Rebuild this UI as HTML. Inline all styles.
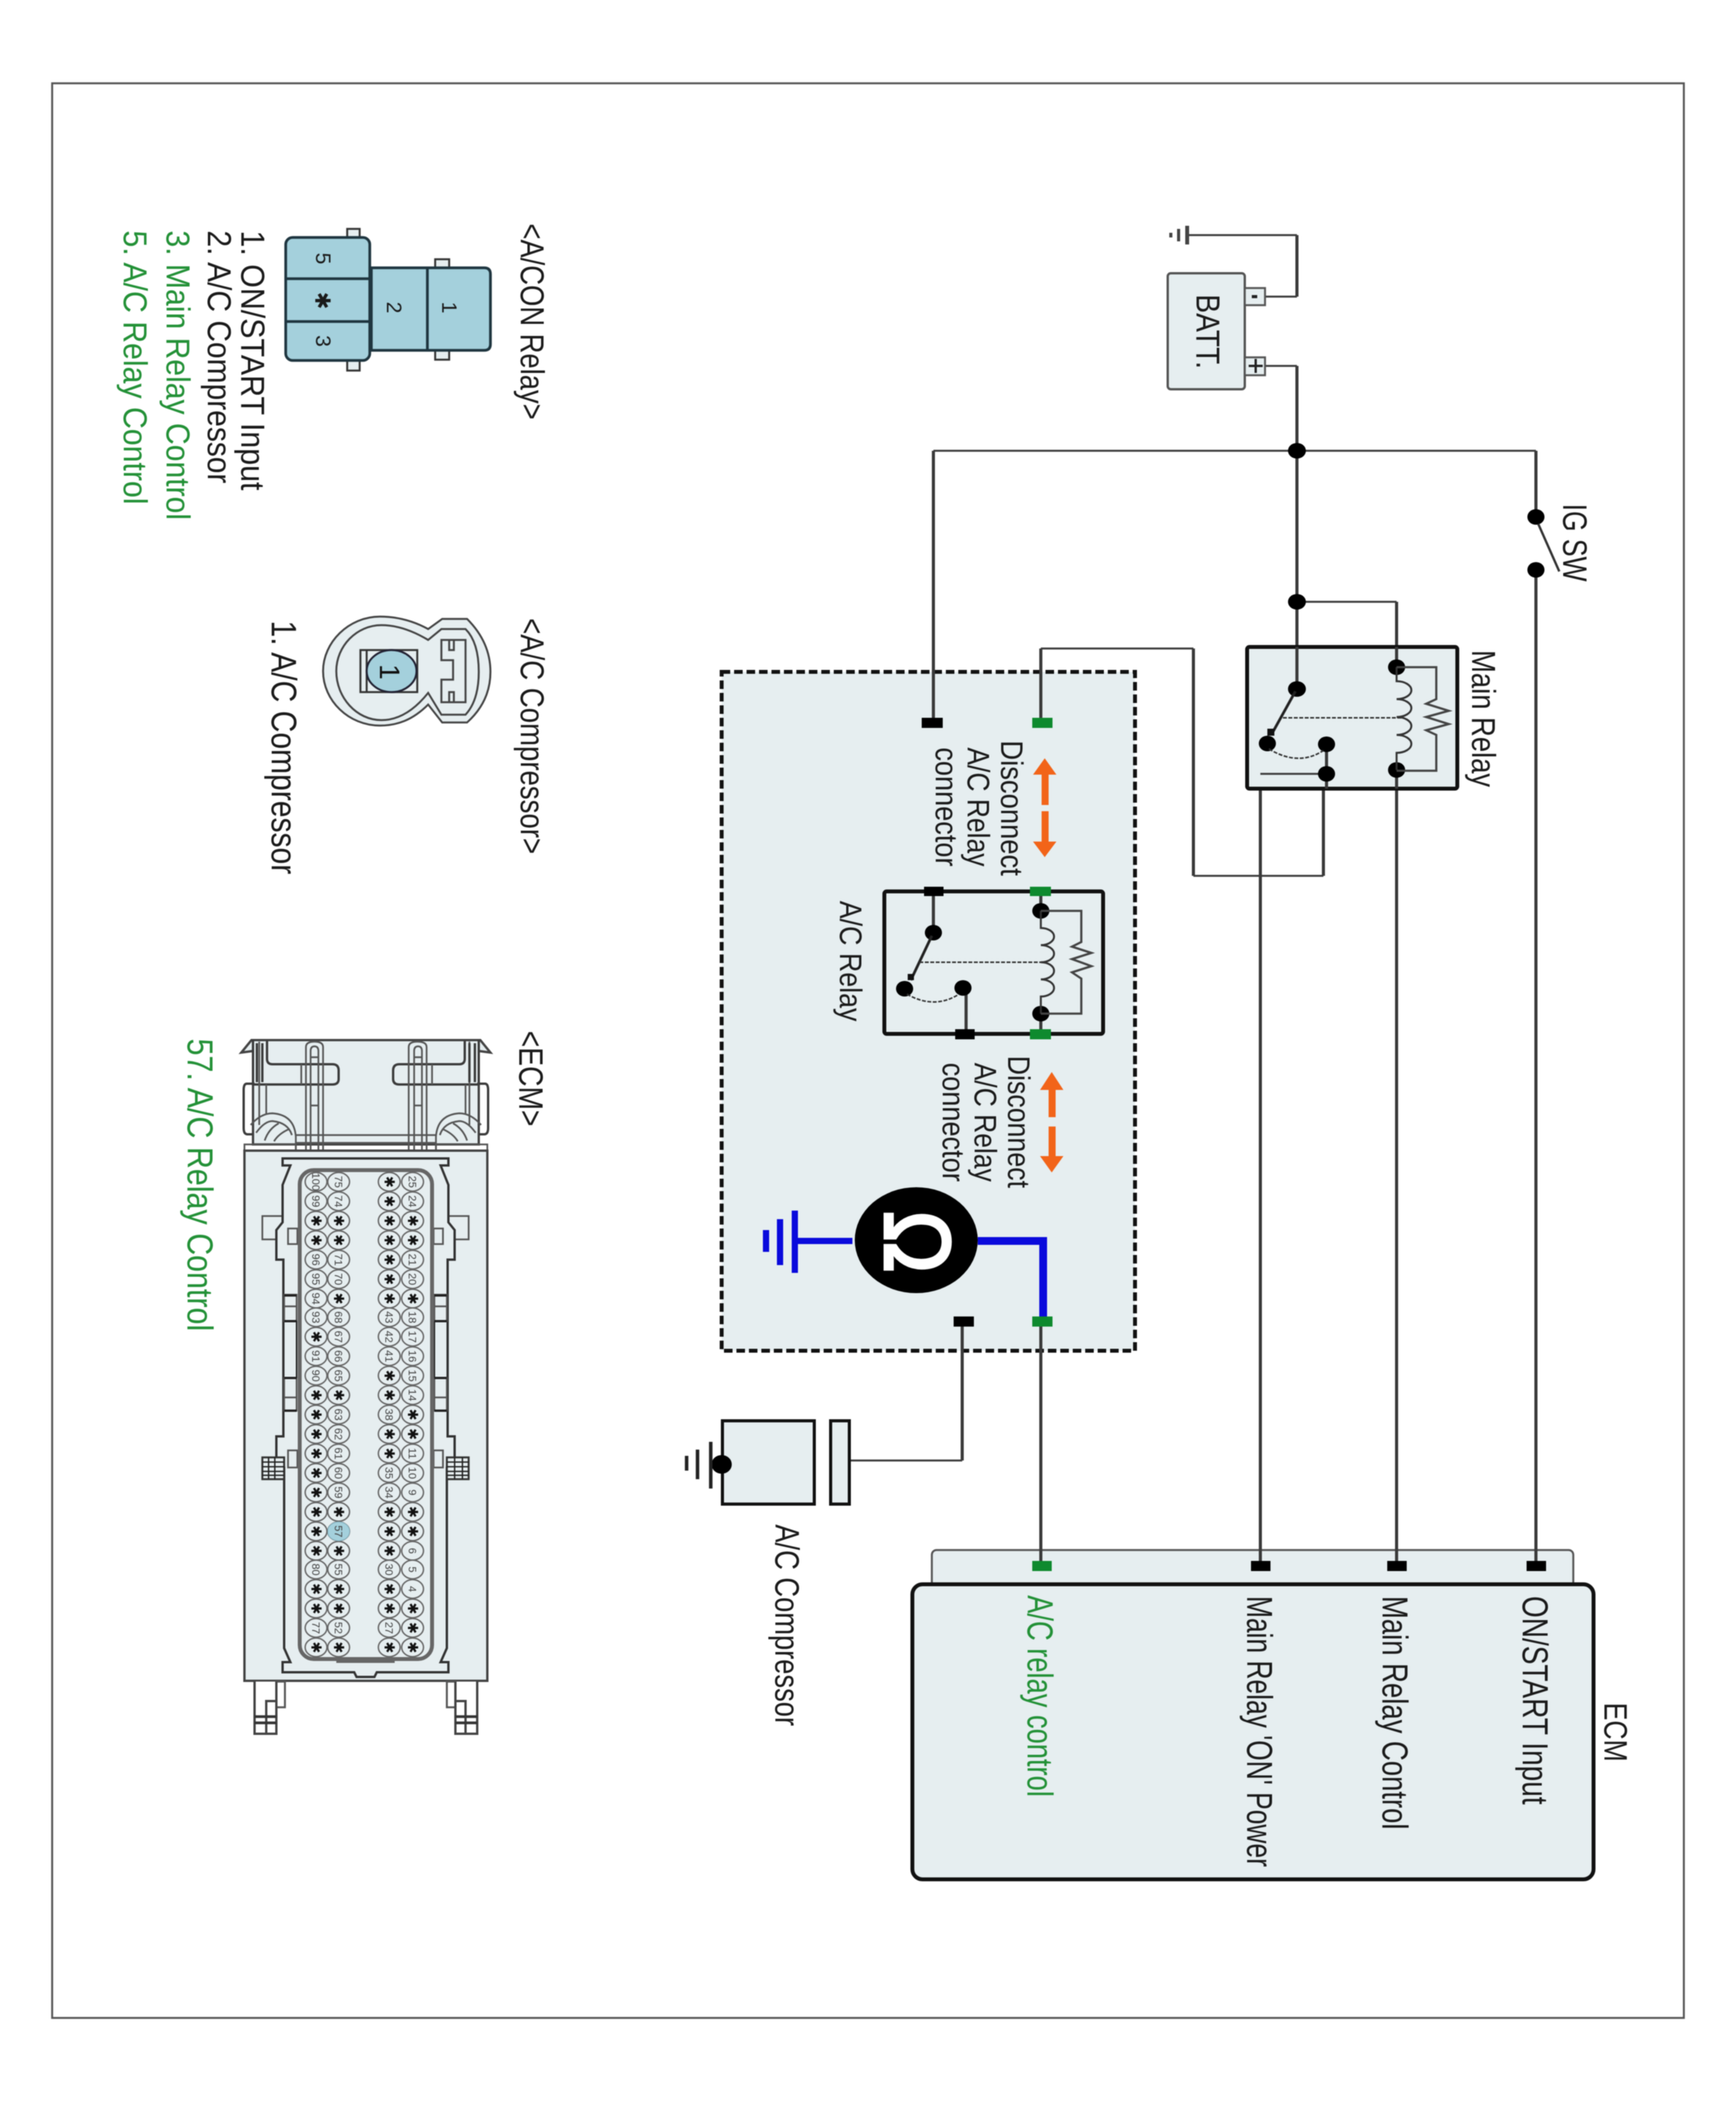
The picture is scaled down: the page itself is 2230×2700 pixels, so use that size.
<!DOCTYPE html>
<html><head><meta charset="utf-8"><title>A/C Relay Circuit</title>
<style>
html,body{margin:0;padding:0;background:#fff}
svg{display:block;filter:blur(.6px)}
text{font-family:"Liberation Sans",sans-serif;fill:#1a1a1a}
.g{fill:#239137}
.w{fill:none;stroke:#3a3a3a;stroke-width:4}
.h{fill:none;stroke:#3a3a3a;stroke-width:2.6}
.b{fill:#e6eef0;stroke:#111;stroke-width:5}
.d{fill:#000}
.l{fill:none;stroke:#555;stroke-width:2.2}
.k{fill:none;stroke:#3c3c3c;stroke-width:3}
.c text{text-anchor:middle;font-size:14px;fill:#444}
.c text.s{font-family:"DejaVu Sans",sans-serif;font-size:18px;fill:#111;font-weight:bold}
</style></head><body>
<svg width="2230" height="2700" viewBox="0 0 2230 2700" xmlns="http://www.w3.org/2000/svg">
<rect width="2230" height="2700" fill="#fff"/>
<rect x="67" y="107" width="2096" height="2485" fill="none" stroke="#555" stroke-width="2.5"/>

<!-- dashed box -->
<rect x="927" y="863" width="531" height="872" fill="#e6eef0" stroke="#111" stroke-width="5" stroke-dasharray="11 5"/>

<!-- wires vertical -->
<path class="w" d="M1666 302V381M1666 470V885M1973 579V664M1199 579V928M1973 732V2012M1794 773V2012M1704 956V994M1619 994V2012M1700 994V1125M1533 833V1125M1337 833V928M1337 1700V2012M1236 1700V1876"/>
<!-- wires horizontal -->
<path class="h" d="M1525 302H1666M1625 381H1666M1625 470H1666M1199 579H1973M1666 773H1794M1619 994H1704M1533 1125H1700M1337 833H1533M1090 1876H1236"/>

<!-- ground top -->
<path d="M1525 290V314" stroke="#444" stroke-width="5"/>
<path d="M1514 294V310" stroke="#444" stroke-width="4"/>
<path d="M1504 299V305" stroke="#444" stroke-width="4"/>

<!-- battery -->
<rect x="1500" y="351" width="99" height="149" rx="4" fill="#e6eef0" stroke="#555" stroke-width="3"/>
<rect x="1599" y="370" width="26" height="22" fill="#e6eef0" stroke="#555" stroke-width="2.5"/>
<rect x="1599" y="459" width="26" height="23" fill="#e6eef0" stroke="#555" stroke-width="2.5"/>
<path d="M1608 381h7" stroke="#222" stroke-width="4"/>
<path d="M1604 470h18M1613 461v18" stroke="#222" stroke-width="3"/>
<text transform="translate(1537 378) rotate(90)" font-size="43" textLength="96" lengthAdjust="spacingAndGlyphs">BATT.</text>

<!-- junctions / IG SW -->
<ellipse class="d" cx="1666" cy="579" rx="11.5" ry="10"/>
<ellipse class="d" cx="1666" cy="773" rx="11.5" ry="10"/>
<ellipse class="d" cx="1973" cy="664" rx="11" ry="10"/>
<ellipse class="d" cx="1973" cy="732" rx="11" ry="10"/>
<path d="M1976 673L2003 734" stroke="#333" stroke-width="3" fill="none"/>
<text transform="translate(2008 647) rotate(90)" font-size="44" textLength="100" lengthAdjust="spacingAndGlyphs">IG SW</text>

<!-- Main relay -->
<rect class="b" x="1602" y="831" width="270" height="182" rx="3"/>
<path class="w" d="M1666 831V885M1794 831V857M1794 989V1013M1704 956V1013"/>
<path class="h" d="M1619 994H1704"/>
<ellipse class="d" cx="1666" cy="885" rx="11.5" ry="10"/>
<ellipse class="d" cx="1628" cy="955" rx="11" ry="10"/>
<ellipse class="d" cx="1704" cy="956" rx="11" ry="10"/>
<ellipse class="d" cx="1704" cy="994" rx="11" ry="10"/>
<ellipse class="d" cx="1794" cy="857" rx="11" ry="10"/>
<ellipse class="d" cx="1794" cy="989" rx="11" ry="10"/>
<path d="M1664 888L1633 944" stroke="#222" stroke-width="3.5" fill="none"/>
<rect x="1628" y="936" width="9" height="9" fill="#111"/>
<path d="M1648 922H1801" stroke="#333" stroke-width="2" stroke-dasharray="5 2" fill="none"/>
<path d="M1630 962Q1668 985 1700 964" stroke="#333" stroke-width="2" stroke-dasharray="5 2" fill="none"/>
<path d="M1794 857V875a19 11.5 0 0 1 0 23a19 11.5 0 0 1 0 23a19 11.5 0 0 1 0 23a19 11.5 0 0 1 0 23V989" fill="none" stroke="#333" stroke-width="2.5"/>
<path d="M1794 857H1845V898L1832 904L1861 913L1832 921L1861 930L1832 938L1845 944V990H1794" fill="none" stroke="#444" stroke-width="2.8"/>
<text transform="translate(1891 835) rotate(90)" font-size="43" textLength="176" lengthAdjust="spacingAndGlyphs">Main Relay</text>

<!-- connectors upper -->
<rect class="d" x="1184" y="922" width="27" height="13"/>
<rect x="1326" y="922" width="26" height="13" fill="#0e8a2e"/>

<!-- orange arrows -->
<g fill="#f26419">
<path d="M1342 974L1357 995H1327Z"/><rect x="1338" y="995" width="9" height="39"/><rect x="1338" y="1042" width="9" height="39"/><path d="M1342 1101L1357 1081H1327Z"/>
<path d="M1351 1377L1366 1400H1336Z"/><rect x="1347" y="1400" width="9" height="35"/><rect x="1347" y="1447" width="9" height="38"/><path d="M1351 1506L1366 1485H1336Z"/>
</g>

<!-- disconnect texts -->
<text transform="translate(1286 951) rotate(90)" font-size="40" textLength="174" lengthAdjust="spacingAndGlyphs">Disconnect</text>
<text transform="translate(1243 960) rotate(90)" font-size="40" textLength="153" lengthAdjust="spacingAndGlyphs">A/C Relay</text>
<text transform="translate(1202 960) rotate(90)" font-size="40" textLength="153" lengthAdjust="spacingAndGlyphs">connector</text>
<text transform="translate(1295 1356) rotate(90)" font-size="40" textLength="170" lengthAdjust="spacingAndGlyphs">Disconnect</text>
<text transform="translate(1252 1365) rotate(90)" font-size="40" textLength="153" lengthAdjust="spacingAndGlyphs">A/C Relay</text>
<text transform="translate(1211 1365) rotate(90)" font-size="40" textLength="153" lengthAdjust="spacingAndGlyphs">connector</text>

<!-- A/C relay -->
<rect class="b" x="1136" y="1145" width="281" height="183" rx="3"/>
<path class="w" d="M1199 1145V1198M1241 1269V1328M1337 1145V1170M1337 1302V1328"/>
<rect class="d" x="1187" y="1139" width="25" height="12"/>
<rect x="1323" y="1139" width="27" height="12" fill="#0e8a2e"/>
<rect class="d" x="1227" y="1322" width="25" height="13"/>
<rect x="1323" y="1322" width="27" height="13" fill="#0e8a2e"/>
<ellipse class="d" cx="1337" cy="1170" rx="11" ry="10"/>
<ellipse class="d" cx="1337" cy="1302" rx="11" ry="10"/>
<ellipse class="d" cx="1199" cy="1198" rx="11" ry="10"/>
<ellipse class="d" cx="1162" cy="1270" rx="11" ry="10"/>
<ellipse class="d" cx="1237" cy="1269" rx="11" ry="10"/>
<path d="M1197 1202L1170 1259" stroke="#222" stroke-width="3.5" fill="none"/>
<rect x="1166" y="1251" width="8" height="8" fill="#111"/>
<path d="M1181 1236H1338" stroke="#333" stroke-width="2" stroke-dasharray="5 2" fill="none"/>
<path d="M1165 1277Q1200 1297 1232 1277" stroke="#333" stroke-width="2" stroke-dasharray="5 2" fill="none"/>
<path d="M1337 1170V1192a17 11 0 0 1 0 22a17 11 0 0 1 0 22a17 11 0 0 1 0 22a17 11 0 0 1 0 22V1302" fill="none" stroke="#333" stroke-width="2.5"/>
<path d="M1337 1170H1389V1210L1377 1216L1402 1224L1377 1232L1402 1241L1377 1249L1389 1257V1302H1337" fill="none" stroke="#444" stroke-width="2.8"/>
<text transform="translate(1079 1157) rotate(90)" font-size="40" textLength="155" lengthAdjust="spacingAndGlyphs">A/C Relay</text>

<!-- omega -->
<path d="M1256 1594H1340V1691" fill="none" stroke="#0a0adc" stroke-width="10"/>
<path d="M1095 1594H1021" fill="none" stroke="#0a0adc" stroke-width="8"/>
<path d="M1021 1555V1635" stroke="#0a0adc" stroke-width="8"/>
<path d="M1002 1566V1625" stroke="#0a0adc" stroke-width="8"/>
<path d="M984 1580V1608" stroke="#0a0adc" stroke-width="8"/>
<ellipse class="d" cx="1177" cy="1593" rx="79" ry="68"/>
<text transform="translate(1137 1555) rotate(90)" font-size="120" textLength="80" lengthAdjust="spacingAndGlyphs" style="fill:#fff;stroke:#fff;stroke-width:4">Ω</text>
<rect x="1326" y="1691" width="26" height="13" fill="#0e8a2e"/>
<rect class="d" x="1225" y="1691" width="26" height="13"/>

<!-- compressor -->
<rect x="1067" y="1825" width="24" height="107" fill="#e6eef0" stroke="#111" stroke-width="4"/>
<rect x="928" y="1825" width="118" height="107" fill="#e6eef0" stroke="#111" stroke-width="4"/>
<ellipse class="d" cx="927" cy="1881" rx="13" ry="12"/>
<path d="M913 1852V1912" stroke="#222" stroke-width="4.5"/>
<path d="M896 1862V1900" stroke="#222" stroke-width="4.5"/>
<path d="M882 1870V1889" stroke="#222" stroke-width="4.5"/>
<text transform="translate(996 1958) rotate(90)" font-size="44" textLength="259" lengthAdjust="spacingAndGlyphs">A/C Compressor</text>

<!-- ECM -->
<rect x="1197" y="1991" width="824" height="50" rx="6" fill="#e6eef0" stroke="#555" stroke-width="2.5"/>
<path class="h" d="M1337 1960V2011M1619 1960V2011M1794 1960V2011M1973 1960V2011" style="stroke-width:4"/>
<rect x="1172" y="2035" width="875" height="379" rx="13" class="b"/>
<rect x="1326" y="2005" width="25" height="13" fill="#0e8a2e"/>
<rect class="d" x="1607" y="2005" width="25" height="13"/>
<rect class="d" x="1782" y="2005" width="25" height="13"/>
<rect class="d" x="1961" y="2005" width="25" height="13"/>
<text transform="translate(1956 2050) rotate(90)" font-size="46" textLength="268" lengthAdjust="spacingAndGlyphs">ON/START Input</text>
<text transform="translate(1776 2050) rotate(90)" font-size="46" textLength="300" lengthAdjust="spacingAndGlyphs">Main Relay Control</text>
<text transform="translate(1602 2050) rotate(90)" font-size="46" textLength="348" lengthAdjust="spacingAndGlyphs">Main Relay 'ON' Power</text>
<text class="g" transform="translate(1320 2049) rotate(90)" font-size="46" textLength="259" lengthAdjust="spacingAndGlyphs">A/C relay control</text>
<text transform="translate(2061 2187) rotate(90)" font-size="42" textLength="76" lengthAdjust="spacingAndGlyphs">ECM</text>

<!-- A/CON connector -->
<text transform="translate(669 287) rotate(90)" font-size="43" textLength="252" lengthAdjust="spacingAndGlyphs">&lt;A/CON Relay&gt;</text>
<g fill="#e6eef0" stroke="#333" stroke-width="2.5">
<rect x="446" y="294" width="16" height="14"/><rect x="446" y="460" width="16" height="16"/>
<rect x="559" y="333" width="18" height="14"/><rect x="559" y="447" width="18" height="15"/>
</g>
<g fill="#a4d0dc" stroke="#1f3640" stroke-width="3.5">
<path d="M477 344H622Q630 344 630 352V442Q630 450 622 450H477Z"/>
<path d="M549 344V450"/>
<rect x="367" y="305" width="108" height="158" rx="9"/>
<path d="M367 358H475M367 413H475"/>
</g>
<g font-size="27" text-anchor="middle" style="fill:#223">
<text transform="translate(568 395) rotate(90)">1</text>
<text transform="translate(497 395) rotate(90)">2</text>
<text transform="translate(406 332) rotate(90)">5</text>
<text transform="translate(406 438) rotate(90)">3</text>
<text transform="translate(405 386) rotate(90)" font-weight="bold" style="font-family:'DejaVu Sans',sans-serif">✱</text>
</g>
<text transform="translate(310 296) rotate(90)" font-size="43" textLength="334" lengthAdjust="spacingAndGlyphs">1. ON/START Input</text>
<text transform="translate(267 296) rotate(90)" font-size="43" textLength="325" lengthAdjust="spacingAndGlyphs">2. A/C Compressor</text>
<text class="g" transform="translate(214 296) rotate(90)" font-size="43" textLength="372" lengthAdjust="spacingAndGlyphs">3. Main Relay Control</text>
<text class="g" transform="translate(159 296) rotate(90)" font-size="43" textLength="352" lengthAdjust="spacingAndGlyphs">5. A/C Relay Control</text>

<!-- A/C compressor connector -->
<text transform="translate(669 794) rotate(90)" font-size="43" textLength="303" lengthAdjust="spacingAndGlyphs">&lt;A/C Compressor&gt;</text>
<path d="M550 808C530 797 510 792 488 792C448 792 415 825 415 862C415 900 448 932 488 932C510 932 530 925 550 905L568 928H600C620 910 630 888 630 863C630 838 620 815 600 795H568Z" fill="#e6eef0" stroke="#444" stroke-width="2.5"/>
<path d="M550 822C530 810 510 803 490 803C458 803 432 830 432 862C432 896 458 925 490 925C510 925 530 915 550 890L567 918H598C610 905 615 885 615 863C615 840 610 820 598 808H567Z" fill="none" stroke="#444" stroke-width="2.5"/>
<path d="M567 822H598V902H567V873H582V848H567ZM577 822V835H583V822M577 902V889H583V902" fill="none" stroke="#444" stroke-width="2.5"/>
<rect x="463" y="835" width="73" height="54" fill="#e6eef0" stroke="#333" stroke-width="2.5"/>
<path d="M471 835V889" stroke="#333" stroke-width="2.5"/>
<ellipse cx="503" cy="862" rx="32" ry="27" fill="#a4d0dc" stroke="#223" stroke-width="2.5"/>
<text transform="translate(488 863) rotate(90)" font-size="36" text-anchor="middle" style="fill:#111">1</text>
<text transform="translate(349 797) rotate(90)" font-size="45" textLength="326" lengthAdjust="spacingAndGlyphs">1. A/C Compressor</text>

<!-- ECM connector -->
<text transform="translate(667 1324) rotate(90)" font-size="44" textLength="123" lengthAdjust="spacingAndGlyphs">&lt;ECM&gt;</text>
<text class="g" transform="translate(241 1334) rotate(90)" font-size="46" textLength="376" lengthAdjust="spacingAndGlyphs">57. A/C Relay Control</text>
<!-- top housing -->
<path d="M310 1352L323 1336H617L630 1352L615 1350V1470H325V1350Z" fill="#e6eef0" stroke="#444" stroke-width="3"/>
<g class="k">
<path d="M343 1337V1360Q343 1367 350 1367H427Q435 1367 435 1375V1386Q435 1393 427 1393H325"/>
<path d="M597 1337V1360Q597 1367 590 1367H513Q505 1367 505 1375V1386Q505 1393 513 1393H615"/>
</g>
<g class="l">
<path d="M387 1367V1393M555 1367V1393"/>
<path d="M393 1478V1345Q393 1338 404 1338Q415 1338 415 1345V1478M399 1478V1350Q399 1344 404 1344Q409 1344 409 1350V1478M399 1358H409M399 1420H409"/>
<path d="M525 1478V1345Q525 1338 536 1338Q548 1338 548 1345V1478M532 1478V1350Q532 1344 537 1344Q542 1344 542 1350V1478M532 1358H542M532 1420H542"/>
<path d="M342 1393V1432M598 1393V1432M333 1338V1445M603 1338V1445"/>
<path d="M380 1458H560M380 1468H560"/>
<path d="M322 1445Q335 1430 350 1430Q378 1432 380 1460V1478M329 1455Q340 1440 350 1440Q370 1442 375 1458M340 1465Q345 1450 358 1443M352 1466Q358 1456 372 1450"/>
<path d="M618 1445Q605 1430 590 1430Q562 1432 560 1460V1478M611 1455Q600 1440 590 1440Q570 1442 565 1458M600 1465Q595 1450 582 1443M588 1466Q582 1456 568 1450"/>
</g>
<path d="M325 1336V1390M615 1336V1390M330 1340V1390M337 1340V1390M603 1340V1390M610 1340V1390" class="k"/>
<path d="M327 1392H317Q313 1392 313 1400V1449Q313 1457 318 1457H325M613 1392H623Q627 1392 627 1400V1449Q627 1457 622 1457H615" class="k" fill="#e6eef0"/>
<!-- body -->
<path d="M314 1478V1470H380V1478M626 1478V1470H560V1478" class="l"/>
<rect x="314" y="1478" width="312" height="681" fill="#e6eef0" stroke="#444" stroke-width="3"/>
<!-- legs -->
<path d="M355 2160H366V2193H355ZM574 2160H585V2193H574Z" fill="#fff" stroke="#555" stroke-width="2.5"/>
<path d="M327 2160V2227H355V2160M342 2227V2185H355M613 2160V2227H585V2160M598 2227V2185H585" fill="#fff" stroke="#444" stroke-width="3"/>
<path d="M327 2205H355M327 2213H355M585 2205H613M585 2213H613" stroke="#333" stroke-width="3.5" fill="none"/>
<!-- side tabs -->
<g class="l" fill="#e6eef0" style="fill:#e6eef0">
<rect x="337" y="1562" width="26" height="30"/><rect x="576" y="1562" width="26" height="30"/>
</g>
<!-- inner frame -->
<path d="M469 1488H363V1497H373L363 1522V1570L355 1580V1618H364V1845H355V1880L365 1885V2117L373 2135H363V2148H455L458 2154H481L484 2148H576V2135H566L574 2117V1885L584 1880V1845H575V1618H584V1580L576 1570V1522L566 1497H576V1488Z" fill="#e6eef0" stroke="#333" stroke-width="3"/>
<g class="l" style="fill:#e6eef0">
<rect x="370" y="1578" width="12" height="20"/><rect x="557" y="1578" width="12" height="20"/>
<rect x="370" y="1863" width="12" height="22"/><rect x="557" y="1863" width="12" height="22"/>
<rect x="365" y="1663" width="16" height="34"/><rect x="558" y="1663" width="16" height="34"/>
<rect x="365" y="1770" width="16" height="42"/><rect x="558" y="1770" width="16" height="42"/>
</g>
<path d="M365 1678H381M365 1795H381M558 1678H574M558 1795H574" class="l"/>
<path d="M365 1664H381M365 1697H381M365 1770H381M365 1812H381M558 1664H574M558 1697H574M558 1770H574M558 1812H574" stroke="#222" stroke-width="3"/>
<path d="M381 1697V1770M558 1697V1770" stroke="#222" stroke-width="2"/>
<rect x="337" y="1872" width="28" height="28" fill="#e6eef0" stroke="#333" stroke-width="2.5"/>
<rect x="574" y="1872" width="28" height="28" fill="#e6eef0" stroke="#333" stroke-width="2.5"/>
<path d="M337 1878H365M337 1884H365M337 1890H365M337 1895H365M345 1872V1900M353 1872V1900M574 1878H602M574 1884H602M574 1890H602M574 1895H602M584 1872V1900M594 1872V1900" stroke="#222" stroke-width="1.8" fill="none"/>
<rect x="385" y="1503" width="170" height="628" rx="18" fill="#e6eef0" stroke="#666" stroke-width="5"/>
<rect x="432" y="2130" width="75" height="6" fill="#666"/>

<defs><g id="r" fill="#e6eef0" stroke="#666" stroke-width="1.8">
<ellipse cx="0" cy="0" rx="12" ry="14"/><ellipse cx="25" cy="0" rx="12" ry="14"/><ellipse cx="50" cy="0" rx="12" ry="14"/><ellipse cx="75" cy="0" rx="12" ry="14"/><ellipse cx="100" cy="0" rx="12" ry="14"/><ellipse cx="125" cy="0" rx="12" ry="14"/><ellipse cx="150" cy="0" rx="12" ry="14"/><ellipse cx="174" cy="0" rx="12" ry="14"/><ellipse cx="199" cy="0" rx="12" ry="14"/><ellipse cx="224" cy="0" rx="12" ry="14"/><ellipse cx="249" cy="0" rx="12" ry="14"/><ellipse cx="274" cy="0" rx="12" ry="14"/><ellipse cx="299" cy="0" rx="12" ry="14"/><ellipse cx="324" cy="0" rx="12" ry="14"/><ellipse cx="349" cy="0" rx="12" ry="14"/><ellipse cx="374" cy="0" rx="12" ry="14"/><ellipse cx="399" cy="0" rx="12" ry="14"/><ellipse cx="424" cy="0" rx="12" ry="14"/><ellipse cx="449" cy="0" rx="12" ry="14"/><ellipse cx="474" cy="0" rx="12" ry="14"/><ellipse cx="498" cy="0" rx="12" ry="14"/><ellipse cx="523" cy="0" rx="12" ry="14"/><ellipse cx="548" cy="0" rx="12" ry="14"/><ellipse cx="573" cy="0" rx="12" ry="14"/><ellipse cx="598" cy="0" rx="12" ry="14"/>
</g></defs>

<!-- col 4 -->
<g class="c" transform="translate(530 1518) rotate(90)"><use href="#r"/>
<text x="0" y="5">25</text><text x="25" y="5">24</text><text class="s" x="50" y="6">✱</text><text class="s" x="75" y="6">✱</text><text x="100" y="5">21</text><text x="125" y="5">20</text><text class="s" x="150" y="6">✱</text><text x="174" y="5">18</text><text x="199" y="5">17</text><text x="224" y="5">16</text><text x="249" y="5">15</text><text x="274" y="5">14</text><text class="s" x="299" y="6">✱</text><text class="s" x="324" y="6">✱</text><text x="349" y="5">11</text><text x="374" y="5">10</text><text x="399" y="5">9</text><text class="s" x="424" y="6">✱</text><text class="s" x="449" y="6">✱</text><text x="474" y="5">6</text><text x="498" y="5">5</text><text x="523" y="5">4</text><text class="s" x="548" y="6">✱</text><text class="s" x="573" y="6">✱</text><text class="s" x="598" y="6">✱</text></g>
<!-- col 3 -->
<g class="c" transform="translate(500 1518) rotate(90)"><use href="#r"/>
<text class="s" x="0" y="6">✱</text><text class="s" x="25" y="6">✱</text><text class="s" x="50" y="6">✱</text><text class="s" x="75" y="6">✱</text><text class="s" x="100" y="6">✱</text><text class="s" x="125" y="6">✱</text><text class="s" x="150" y="6">✱</text><text x="174" y="5">43</text><text x="199" y="5">42</text><text x="224" y="5">41</text><text class="s" x="249" y="6">✱</text><text class="s" x="274" y="6">✱</text><text x="299" y="5">38</text><text class="s" x="324" y="6">✱</text><text class="s" x="349" y="6">✱</text><text x="374" y="5">35</text><text x="399" y="5">34</text><text class="s" x="424" y="6">✱</text><text class="s" x="449" y="6">✱</text><text class="s" x="474" y="6">✱</text><text x="498" y="5">30</text><text class="s" x="523" y="6">✱</text><text class="s" x="548" y="6">✱</text><text x="573" y="5">27</text><text class="s" x="598" y="6">✱</text></g>
<!-- col 2 -->
<g class="c" transform="translate(435 1518) rotate(90)"><use href="#r"/>
<ellipse cx="449" cy="0" rx="12" ry="14" fill="#a4d0dc" stroke="#8bbccb"/>
<text x="0" y="5">75</text><text x="25" y="5">74</text><text class="s" x="50" y="6">✱</text><text class="s" x="75" y="6">✱</text><text x="100" y="5">71</text><text x="125" y="5">70</text><text class="s" x="150" y="6">✱</text><text x="174" y="5">68</text><text x="199" y="5">67</text><text x="224" y="5">66</text><text x="249" y="5">65</text><text class="s" x="274" y="6">✱</text><text x="299" y="5">63</text><text x="324" y="5">62</text><text x="349" y="5">61</text><text x="374" y="5">60</text><text x="399" y="5">59</text><text class="s" x="424" y="6">✱</text><text x="449" y="5">57</text><text class="s" x="474" y="6">✱</text><text x="498" y="5">55</text><text class="s" x="523" y="6">✱</text><text class="s" x="548" y="6">✱</text><text x="573" y="5">52</text><text class="s" x="598" y="6">✱</text></g>
<!-- col 1 -->
<g class="c" transform="translate(406 1518) rotate(90)"><use href="#r"/>
<text x="0" y="5">100</text><text x="25" y="5">99</text><text class="s" x="50" y="6">✱</text><text class="s" x="75" y="6">✱</text><text x="100" y="5">96</text><text x="125" y="5">95</text><text x="150" y="5">94</text><text x="174" y="5">93</text><text class="s" x="199" y="6">✱</text><text x="224" y="5">91</text><text x="249" y="5">90</text><text class="s" x="274" y="6">✱</text><text class="s" x="299" y="6">✱</text><text class="s" x="324" y="6">✱</text><text class="s" x="349" y="6">✱</text><text class="s" x="374" y="6">✱</text><text class="s" x="399" y="6">✱</text><text class="s" x="424" y="6">✱</text><text class="s" x="449" y="6">✱</text><text class="s" x="474" y="6">✱</text><text x="498" y="5">80</text><text class="s" x="523" y="6">✱</text><text class="s" x="548" y="6">✱</text><text x="573" y="5">77</text><text class="s" x="598" y="6">✱</text></g>
</svg>
</body></html>
